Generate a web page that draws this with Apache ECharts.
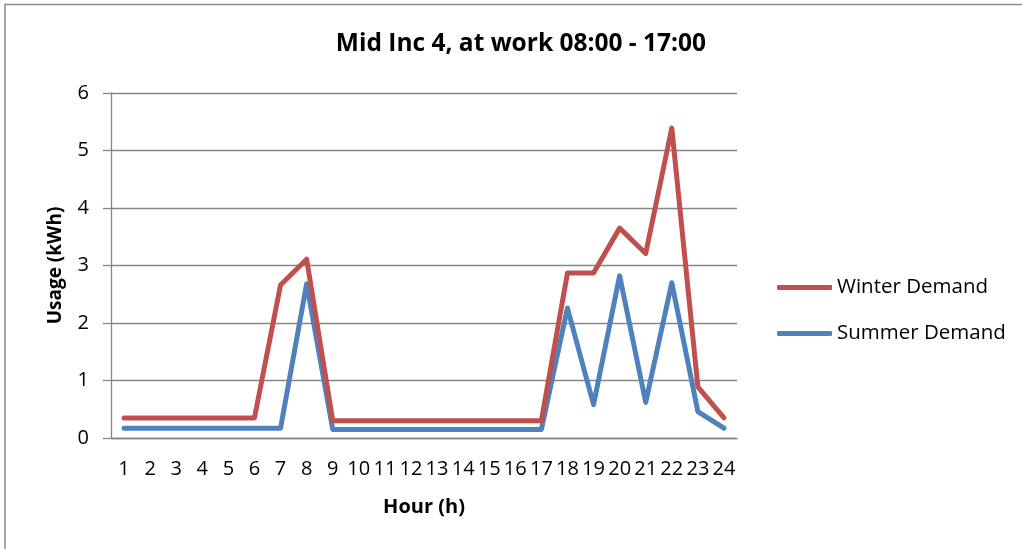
<!DOCTYPE html>
<html>
<head>
<meta charset="utf-8">
<script src="https://cdn.jsdelivr.net/npm/echarts@6/dist/echarts.min.js"></script>
<style>
  html, body { margin: 0; padding: 0; background: #fff; }
  #chart { width: 1022px; height: 549px; }
</style>
</head>
<body>
<div id="chart"></div>
<script>
// Hourly electricity usage (kWh), hours 1..24
const hours = ['1','2','3','4','5','6','7','8','9','10','11','12','13','14','15','16','17','18','19','20','21','22','23','24'];
const winterDemand = [0.35,0.35,0.35,0.35,0.35,0.35,2.66,3.11,0.30,0.30,0.30,0.30,0.30,0.30,0.30,0.30,0.30,2.87,2.87,3.65,3.21,5.39,0.89,0.35];
const summerDemand = [0.17,0.17,0.17,0.17,0.17,0.17,0.17,2.68,0.15,0.15,0.15,0.15,0.15,0.15,0.15,0.15,0.15,2.26,0.58,2.82,0.62,2.70,0.46,0.17];
const yTicks = { min: 0, max: 6, step: 1 };

const FONT = '"Open Sans", "Liberation Sans", sans-serif';
const GRAY = '#868686';

const chart = echarts.init(document.getElementById('chart'), null, { renderer: 'canvas' });
chart.setOption({
  backgroundColor: '#ffffff',
  animation: false,
  graphic: [{
    type: 'rect',
    shape: { x: 5, y: 4.5, width: 1100, height: 600 },
    style: { fill: 'none', stroke: '#8c8c8c', lineWidth: 1.5 },
    silent: true
  }],
  title: {
    text: 'Mid Inc 4, at work 08:00 - 17:00',
    left: 516,
    textAlign: 'center',
    top: 27,
    textStyle: { fontFamily: FONT, fontSize: 24.5, fontWeight: 'bold', color: '#000' }
  },
  legend: {
    orient: 'vertical',
    left: 772,
    top: 272,
    itemWidth: 55,
    itemHeight: 5,
    itemGap: 25,
    icon: 'roundRect',
    textStyle: { fontFamily: FONT, fontSize: 20.5, color: '#000', lineHeight: 21, padding: [0, 0, 0, 0] },
    data: ['Winter Demand', 'Summer Demand']
  },
  grid: { left: 111, right: 285, top: 93, bottom: 111, containLabel: false },
  xAxis: {
    type: 'category',
    data: hours,
    boundaryGap: true,
    name: 'Hour (h)',
    nameLocation: 'middle',
    nameGap: 59,
    nameTextStyle: { fontFamily: FONT, fontSize: 20, fontWeight: 'bold', color: '#000' },
    axisLine: { lineStyle: { color: GRAY, width: 1.3 } },
    axisTick: { show: false },
    axisLabel: { fontFamily: FONT, fontSize: 20, color: '#000', margin: 21, interval: 0 },
    splitLine: { show: false }
  },
  yAxis: {
    type: 'value',
    min: yTicks.min,
    max: yTicks.max,
    interval: yTicks.step,
    name: 'Usage (kWh)',
    nameLocation: 'middle',
    nameGap: 46,
    nameTextStyle: { fontFamily: FONT, fontSize: 19, fontWeight: 'bold', color: '#000' },
    axisLine: { show: true, lineStyle: { color: GRAY, width: 1.3 } },
    axisTick: { show: true, length: 8, lineStyle: { color: GRAY, width: 1.3 } },
    axisLabel: { fontFamily: FONT, fontSize: 20, color: '#000', margin: 22 },
    splitLine: { show: true, lineStyle: { color: GRAY, width: 1.3 } }
  },
  series: [
    {
      name: 'Winter Demand',
      type: 'line',
      data: winterDemand,
      symbol: 'none',
      color: '#C0504D',
      lineStyle: { width: 5, color: '#C0504D', cap: 'round', join: 'round' },
      z: 3
    },
    {
      name: 'Summer Demand',
      type: 'line',
      data: summerDemand,
      symbol: 'none',
      color: '#4F81BD',
      lineStyle: { width: 5, color: '#4F81BD', cap: 'round', join: 'round' },
      z: 2
    }
  ]
});
</script>
</body>
</html>
